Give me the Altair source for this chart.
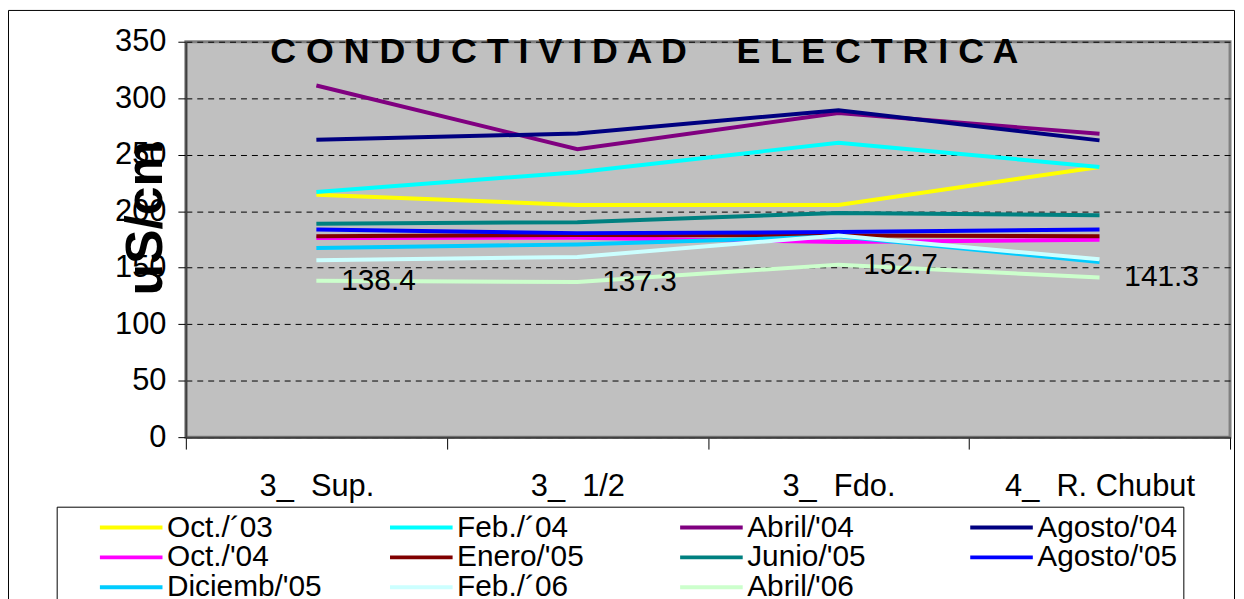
import altair as alt
import pandas as pd

categories = ["3_\u00a0\u00a0Sup.", "3_\u00a0\u00a01/2", "3_\u00a0\u00a0Fdo.", "4_\u00a0\u00a0R. Chubut"]
series = ["Oct./\u00b403", "Feb./\u00b404", "Abril/'04", "Agosto/'04",
          "Oct./'04", "Enero/'05", "Junio/'05", "Agosto/'05",
          "Diciemb/'05", "Feb./\u00b406", "Abril/'06"]
colors = ["#FFFF00", "#00FFFF", "#800080", "#000080",
          "#FF00FF", "#800000", "#008080", "#0000FF",
          "#00CCFF", "#CCFFFF", "#CCFFCC"]

oct03 = [214.6, 205.5, 205.5, 239.2]
feb04 = [217.0, 234.5, 260.6, 239.2]
abr04 = [311.3, 254.8, 287.0, 268.5]
ago04 = [263.2, 268.8, 289.4, 262.7]
oct04 = [176.2, 176.5, 172.7, 174.7]
ene05 = [177.9, 179.0, 178.5, 177.9]
jun05 = [188.8, 190.3, 198.5, 196.4]
ago05 = [183.8, 180.6, 181.5, 183.8]
dic05 = [167.4, 170.6, 177.7, 155.1]
feb06 = [156.6, 159.5, 178.5, 157.4]
abr06 = [138.4, 137.3, 152.7, 141.3]

values = [oct03, feb04, abr04, ago04, oct04, ene05, jun05, ago05, dic05, feb06, abr06]
title_text = "C O N D U C T I V I D A D \u00a0 \u00a0 E L E C T R I C A"
y_title = "uS/cm"

rows = []
for si, (s, vals) in enumerate(zip(series, values)):
    for ci, (c, v) in enumerate(zip(categories, vals)):
        rows.append({"serie": s, "orden": si, "sitio": c, "valor": v})
df = pd.DataFrame(rows)

FONT = "Liberation Sans, Arial"

x_enc = alt.X("sitio:N", sort=categories,
              scale=alt.Scale(type="band", paddingInner=0, paddingOuter=0),
              axis=alt.Axis(title=None, labelAngle=0, tickBand="extent",
                            labelFont=FONT, labelFontSize=31, labelColor="black",
                            labelLimit=400,
                            tickColor="black", tickSize=12, labelPadding=23,
                            domainColor="#404040", domainWidth=2, grid=False))
y_enc = alt.Y("valor:Q", scale=alt.Scale(domain=[0, 350], nice=False, zero=True),
              axis=alt.Axis(values=[0, 50, 100, 150, 200, 250, 300, 350],
                            title=y_title, titleFont=FONT, titleFontSize=52,
                            titleFontWeight="bold", titleColor="black",
                            titleAngle=270, titleX=-40, titleY=177,
                            titleAlign="center", titleBaseline="middle",
                            labelFont=FONT, labelFontSize=31, labelColor="black",
                            tickColor="black", tickSize=8, labelPadding=12,
                            domainColor="#404040", domainWidth=2,
                            grid=True, gridColor="black", gridDash=[6, 5], gridWidth=1))

lines = alt.Chart(df).mark_line(strokeWidth=4).encode(
    x=x_enc, y=y_enc,
    color=alt.Color("serie:N", sort=series,
                    scale=alt.Scale(domain=series, range=colors),
                    legend=alt.Legend(title=None, orient="none", legendX=-130, legendY=468,
                                      direction="horizontal",
                                      columns=4, gridAlign="all", columnPadding=31,
                                      rowPadding=0, padding=6,
                                      symbolType="M-3,0H3", symbolSize=441,
                                      symbolStrokeWidth=4, symbolOffset=54,
                                      symbolFillColor="transparent",
                                      labelFont=FONT, labelFontSize=30,
                                      labelColor="black", labelLimit=400, labelOffset=21,
                                      strokeColor="black", fillColor="white")),
    order=alt.Order("orden:Q"),
    detail="serie:N",
)

labels = alt.Chart(df).transform_filter(
    alt.datum.serie == "Abril/'06"
).mark_text(align="left", baseline="middle", dx=25, font=FONT,
            fontSize=30, color="black").encode(
    x=alt.X("sitio:N", sort=categories), y="valor:Q",
    text=alt.Text("valor:Q", format=".1f"),
)

title = alt.Chart(pd.DataFrame({"t": [title_text]})).mark_text(
    align="left", baseline="alphabetic", font=FONT, fontWeight="bold",
    fontSize=36, color="black"
).encode(x=alt.value(85), y=alt.value(21), text="t:N")

frame = alt.Chart(pd.DataFrame({"f": [0]})).mark_rect(
    fill="transparent", stroke="black", strokeWidth=1
).encode(x=alt.value(-178.5), x2=alt.value(1055.5),
         y=alt.value(-31.5), y2=alt.value(575))

chart = alt.layer(frame, lines, labels, title).properties(
    width=1051, height=398,
    autosize=alt.AutoSizeParams(type="none"),
    padding={"left": 179, "top": 32, "right": 6, "bottom": 170},
    background="white",
).configure_view(fill="#C0C0C0", stroke="#808080", strokeWidth=3)

chart.save("out.html", embed_options={"renderer": "svg", "actions": False})
